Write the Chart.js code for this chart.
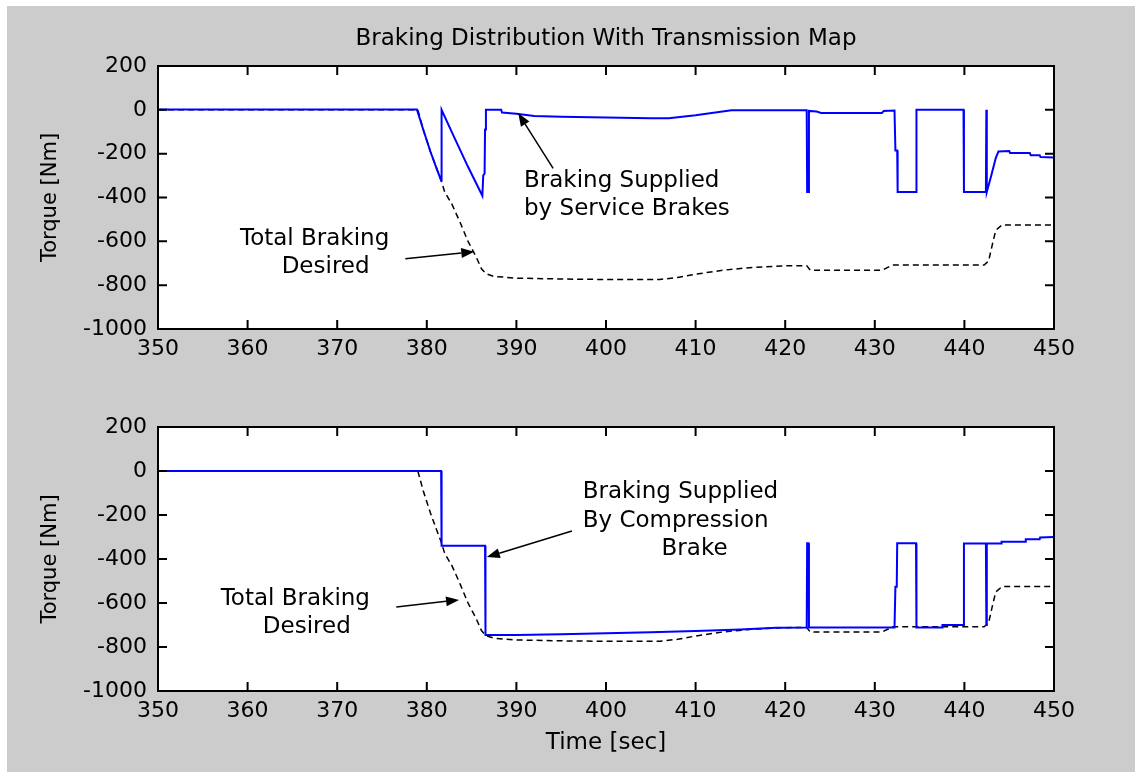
<!DOCTYPE html>
<html>
<head>
<meta charset="utf-8">
<title>Braking Distribution With Transmission Map</title>
<script src="https://cdn.jsdelivr.net/npm/chart.js@4.4.1/dist/chart.umd.min.js"></script>
<style>
  html, body { margin: 0; padding: 0; background: #ffffff; }
  #wrap { position: relative; width: 1135px; height: 772px; overflow: hidden; }
  #fig { position: absolute; left: 7px; top: 6px; width: 1128px; height: 766px; background: #cccccc; }
  canvas { position: absolute; left: 0; top: 0; }
</style>
</head>
<body>
<div id="wrap">
  <div id="fig"></div>
  <canvas id="upper" width="1135" height="772"></canvas>
  <canvas id="lower" width="1135" height="772"></canvas>
</div>
<script>
// ---- axis ticks ----
const timeTicks = [350, 360, 370, 380, 390, 400, 410, 420, 430, 440, 450];
const torqueTicks = [-1000, -800, -600, -400, -200, 0, 200];

// ---- total braking torque requested [Nm] ----
const desiredTime = [350, 379, 379.6, 380.4, 381.1, 381.6, 382.0, 382.8, 383.7, 384.6, 385.5, 386.1, 386.6, 387.5,
  390, 395, 400, 406, 408, 410, 413, 416, 420, 422.4, 422.8, 430.8, 431.5, 432, 442.2, 442.7, 443.2, 443.5, 444.2, 450];
const desiredTorque = [0, 0, -90, -190, -268, -322, -375, -430, -512, -600, -670, -725, -748, -760,
  -768, -772, -774, -774, -765, -750, -732, -720, -712, -711, -732, -732, -718, -708, -708, -690, -600, -550, -525, -525];

// ---- torque supplied by the service brakes [Nm] ----
const serviceTime = [350, 378.9, 379.6, 380.4, 381.1, 381.6, 381.65, 383, 384.6, 386.2, 386.3, 386.45, 386.5, 386.6,
  388.3, 388.4, 390, 392, 395, 400, 405, 407, 410, 414, 422.4, 422.45, 422.6, 422.65, 423.5, 424, 430.8, 431, 432.2,
  432.3, 432.5, 432.55, 434.6, 434.65, 439.9, 439.95, 442.4, 442.45, 442.5, 443, 443.5, 443.8, 445, 445.1, 447.3,
  447.4, 448.4, 448.5, 450];
const serviceTorque = [1, 1, -90, -190, -268, -322, 0, -120, -260, -392, -300, -290, -90, 0,
  0, -12, -18, -28, -32, -35, -38, -38, -25, -2, -2, -375, -375, -5, -8, -14, -14, -5, -3,
  -185, -185, -375, -375, 0, 0, -375, -375, 0, -375, -300, -220, -190, -188, -197, -197,
  -207, -207, -215, -218];

// ---- torque supplied by the compression brake [Nm] ----
const compressionTime = [350, 381.6, 381.65, 386.5, 386.55, 390, 395, 400, 405, 410, 415, 419, 422.4, 422.45, 422.6,
  422.65, 432.2, 432.3, 432.45, 432.5, 434.6, 434.65, 437.5, 437.55, 439.9, 439.95, 442.4, 442.45, 442.5, 444.1,
  444.15, 446.8, 446.85, 448.4, 448.45, 450];
const compressionTorque = [0, 0, -340, -340, -745, -745, -742, -738, -733, -727, -720, -712, -711, -328, -328,
  -711, -711, -526, -526, -328, -328, -711, -711, -700, -700, -330, -330, -700, -330, -330,
  -322, -322, -310, -310, -302, -300];

const pairs = (xs, ys) => xs.map((x, i) => ({ x: x, y: ys[i] }));

const FONT_FAMILY = "'DejaVu Sans', 'Liberation Sans', sans-serif";
Chart.defaults.font.family = FONT_FAMILY;
Chart.defaults.font.size = 22;
Chart.defaults.color = '#000000';

// White axes box, inward ticks on all four sides, text notes with arrows, optional title
function axesDecor(spec) {
  return {
    id: 'axesDecor',
    beforeDatasetsDraw(chart) {
      const a = chart.chartArea, ctx = chart.ctx;
      ctx.save();
      ctx.fillStyle = '#ffffff';
      ctx.fillRect(a.left, a.top, a.right - a.left, a.bottom - a.top);
      ctx.restore();
    },
    afterDraw(chart) {
      const ctx = chart.ctx, a = chart.chartArea;
      const xs = chart.scales.x, ys = chart.scales.y;
      ctx.save();
      // notes
      ctx.fillStyle = '#000000';
      ctx.font = '23px ' + FONT_FAMILY;
      ctx.textAlign = 'left';
      ctx.textBaseline = 'middle';
      spec.notes.forEach(n => ctx.fillText(n.text, xs.getPixelForValue(n.t), ys.getPixelForValue(n.v)));
      // arrows
      spec.arrows.forEach(ar => {
        const x0 = xs.getPixelForValue(ar.from[0]), y0 = ys.getPixelForValue(ar.from[1]);
        const x1 = xs.getPixelForValue(ar.to[0]), y1 = ys.getPixelForValue(ar.to[1]);
        const ang = Math.atan2(y1 - y0, x1 - x0);
        const hl = 13, hw = 5;
        ctx.strokeStyle = '#000000';
        ctx.lineWidth = 1.5;
        ctx.beginPath();
        ctx.moveTo(x0, y0);
        ctx.lineTo(x1 - hl * Math.cos(ang), y1 - hl * Math.sin(ang));
        ctx.stroke();
        ctx.beginPath();
        ctx.moveTo(x1, y1);
        ctx.lineTo(x1 - hl * Math.cos(ang) + hw * Math.sin(ang), y1 - hl * Math.sin(ang) - hw * Math.cos(ang));
        ctx.lineTo(x1 - hl * Math.cos(ang) - hw * Math.sin(ang), y1 - hl * Math.sin(ang) + hw * Math.cos(ang));
        ctx.closePath();
        ctx.fill();
      });
      // box
      ctx.strokeStyle = '#000000';
      ctx.lineWidth = 2;
      ctx.strokeRect(a.left, a.top, a.right - a.left, a.bottom - a.top);
      // inward ticks
      const tl = 9;
      ctx.beginPath();
      timeTicks.forEach(v => {
        const px = xs.getPixelForValue(v);
        ctx.moveTo(px, a.bottom); ctx.lineTo(px, a.bottom - tl);
        ctx.moveTo(px, a.top); ctx.lineTo(px, a.top + tl);
      });
      torqueTicks.forEach(v => {
        const py = ys.getPixelForValue(v);
        ctx.moveTo(a.left, py); ctx.lineTo(a.left + tl, py);
        ctx.moveTo(a.right, py); ctx.lineTo(a.right - tl, py);
      });
      ctx.stroke();
      // figure title
      if (spec.title) {
        ctx.textAlign = 'center';
        ctx.textBaseline = 'middle';
        ctx.fillText(spec.title, (a.left + a.right) / 2, a.top - 27);
      }
      ctx.restore();
    }
  };
}

function makeChart(canvasId, padding, xTitle, blueTime, blueTorque, spec) {
  return new Chart(document.getElementById(canvasId), {
    type: 'line',
    data: {
      datasets: [
        {
          data: pairs(blueTime, blueTorque),
          borderColor: '#0000ff',
          borderWidth: 2,
          pointRadius: 0,
          tension: 0,
          order: 0
        },
        {
          data: pairs(desiredTime, desiredTorque),
          borderColor: '#000000',
          borderWidth: 1.5,
          borderDash: [6, 4],
          pointRadius: 0,
          tension: 0,
          order: 1
        }
      ]
    },
    options: {
      responsive: false,
      animation: false,
      events: [],
      layout: { padding: padding },
      plugins: { legend: { display: false }, tooltip: { enabled: false }, title: { display: false } },
      scales: {
        x: {
          type: 'linear',
          min: 350,
          max: 450,
          grid: { display: false, drawTicks: false },
          border: { display: false },
          afterBuildTicks: s => { s.ticks = timeTicks.map(v => ({ value: v })); },
          afterFit: s => { s.height = xTitle ? 80 : 40; },
          ticks: { padding: 7, maxRotation: 0, autoSkip: false, color: '#000000', callback: v => String(v) },
          title: xTitle ? { display: true, text: xTitle, color: '#000000', font: { size: 23 }, padding: { top: 0, bottom: 14 } } : { display: false }
        },
        y: {
          type: 'linear',
          min: -1000,
          max: 200,
          grid: { display: false, drawTicks: false },
          border: { display: false },
          afterBuildTicks: s => { s.ticks = torqueTicks.map(v => ({ value: v })); },
          afterFit: s => { s.width = 120; },
          ticks: { padding: 11, color: '#000000', callback: v => String(v) },
          title: { display: true, text: 'Torque [Nm]', color: '#000000', font: { size: 21 }, padding: { top: 0, bottom: 0 } }
        }
      }
    },
    plugins: [axesDecor(spec)]
  });
}

makeChart('upper', { left: 38, right: 81, top: 66, bottom: 403 }, null, serviceTime, serviceTorque, {
  title: 'Braking Distribution With Transmission Map',
  notes: [
    { text: 'Braking Supplied', t: 390.85, v: -327 },
    { text: 'by Service Brakes', t: 390.85, v: -451 },
    { text: 'Total Braking', t: 359.15, v: -588 },
    { text: 'Desired', t: 363.8, v: -716 }
  ],
  arrows: [
    { from: [394.1, -267], to: [390.2, -15] },
    { from: [377.6, -679], to: [385.3, -647] }
  ]
});

makeChart('lower', { left: 38, right: 81, top: 427, bottom: 1 }, 'Time [sec]', compressionTime, compressionTorque, {
  notes: [
    { text: 'Braking Supplied', t: 397.4, v: -95 },
    { text: 'By Compression', t: 397.4, v: -227 },
    { text: 'Brake', t: 406.2, v: -355 },
    { text: 'Total Braking', t: 357.0, v: -582 },
    { text: 'Desired', t: 361.7, v: -709 }
  ],
  arrows: [
    { from: [396.2, -273], to: [386.7, -391] },
    { from: [376.6, -618], to: [383.6, -586] }
  ]
});
</script>
</body>
</html>
